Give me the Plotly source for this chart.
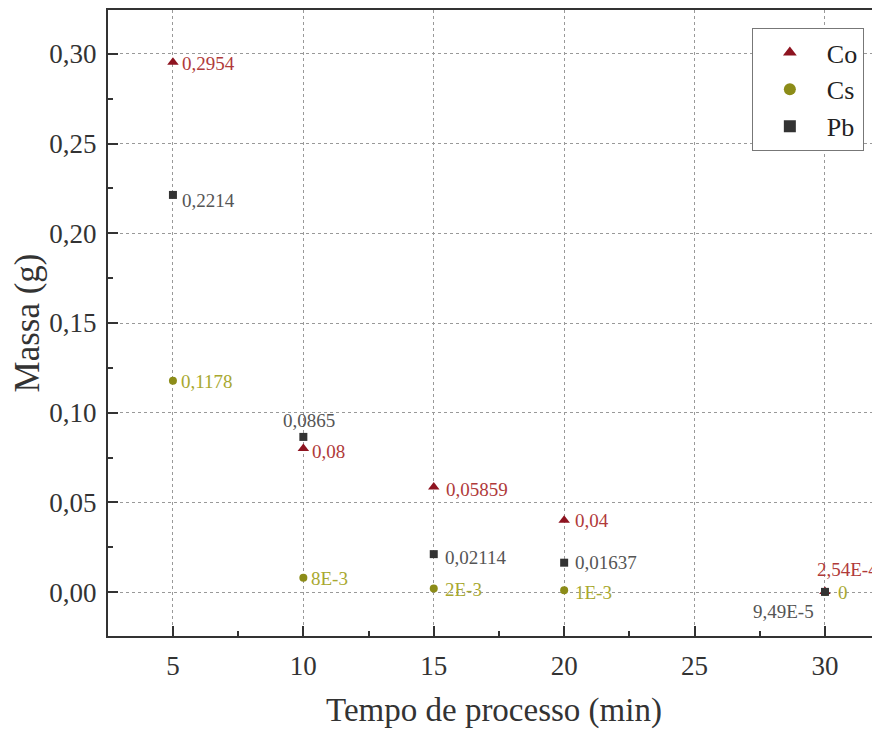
import plotly.graph_objects as go

tempo = [5, 10, 15, 20, 30]
co = [0.2954, 0.08, 0.05859, 0.04, 2.54e-4]
cs = [0.1178, 0.008, 0.002, 0.001, 0.0]
pb = [0.2214, 0.0865, 0.02114, 0.01637, 9.49e-5]
co_lbl = ["0,2954", "0,08", "0,05859", "0,04", "2,54E-4"]
cs_lbl = ["0,1178", "8E-3", "2E-3", "1E-3", "0"]
pb_lbl = ["0,2214", "0,0865", "0,02114", "0,01637", "9,49E-5"]

FONT = "Liberation Serif, Times New Roman, serif"
AXC = "#333333"

# label placement styles: (xanchor, xshift, yshift)
co_pos = [("left", 7, -1), ("left", 7, -3), ("left", 10, -3), ("left", 9, 0), ("left", -10, 22)]
cs_pos = [("left", 6, -1), ("left", 6, -1), ("left", 9, -1), ("left", 9, -2), ("left", 11, 0)]
pb_pos = [("left", 7, -6), ("center", 6, 16), ("left", 9, -3), ("left", 9, 0), ("right", -9, -20)]

fig = go.Figure()
series = [
    ("Co", co, co_lbl, co_pos, "#8e1420", "#b03a3a", "triangle-up", 10),
    ("Cs", cs, cs_lbl, cs_pos, "#8c8c18", "#a8a830", "circle", 8),
    ("Pb", pb, pb_lbl, pb_pos, "#333333", "#555555", "square", 8),
]
annotations = []
for name, ys, lbl, pos, mc, tc, sym, sz in series:
    fig.add_trace(go.Scatter(
        x=tempo, y=ys, name=name, mode="markers",
        marker=dict(symbol=sym, size=sz, color=mc),
        cliponaxis=False,
    ))
    for xv, yv, t, (xa, xs, ysh) in zip(tempo, ys, lbl, pos):
        annotations.append(dict(
            x=xv, y=yv, xref="x", yref="y", text=t, showarrow=False,
            xanchor=xa, yanchor="middle", xshift=xs, yshift=ysh,
            font=dict(family=FONT, size=19, color=tc),
        ))

axis_common = dict(
    showline=True, linewidth=2, linecolor=AXC,
    ticks="inside", ticklen=10, tickwidth=2, tickcolor=AXC,
    showgrid=True, gridcolor="#999999", griddash="dot", gridwidth=1,
    zeroline=False, automargin=False,
    tickfont=dict(family=FONT, size=27, color=AXC),
)

fig.update_xaxes(
    range=[2.51, 32.11], tickvals=[5, 10, 15, 20, 25, 30],
    minor=dict(tickvals=[7.5, 12.5, 17.5, 22.5, 27.5], ticks="inside", ticklen=5,
               tickwidth=2, tickcolor=AXC, showgrid=False),
    mirror=True, ticklabelstandoff=5,
    title=dict(text="Tempo de processo (min)", font=dict(family=FONT, size=33, color=AXC),
               standoff=19),
    **axis_common,
)
fig.update_yaxes(
    range=[-0.0245, 0.3245], tickvals=[0, 0.05, 0.10, 0.15, 0.20, 0.25, 0.30],
    tickformat=".2f", ticklabelstandoff=4,
    minor=dict(tickvals=[0.025, 0.075, 0.125, 0.175, 0.225, 0.275], ticks="inside", ticklen=5,
               tickwidth=2, tickcolor=AXC, showgrid=False),
    title=dict(text="Massa (g)", font=dict(family=FONT, size=35, color=AXC), standoff=4),
    **axis_common,
)

# page body has an 8px margin: figure is sized/offset to land on the reference pixels
fig.update_layout(
    width=872, height=721,
    margin=dict(l=100, r=0, t=2, b=93),
    plot_bgcolor="white", paper_bgcolor="white",
    separators=",.",
    showlegend=True,
    annotations=annotations,
    legend=dict(
        x=0.834, y=0.971, xanchor="left", yanchor="top",
        bgcolor="white", bordercolor="#777777", borderwidth=1,
        font=dict(family=FONT, size=26, color="#222222"),
        itemsizing="constant", tracegroupgap=0, itemwidth=64,
        entrywidth=115, entrywidthmode="pixels",
    ),
)

fig.write_html("out.html")
